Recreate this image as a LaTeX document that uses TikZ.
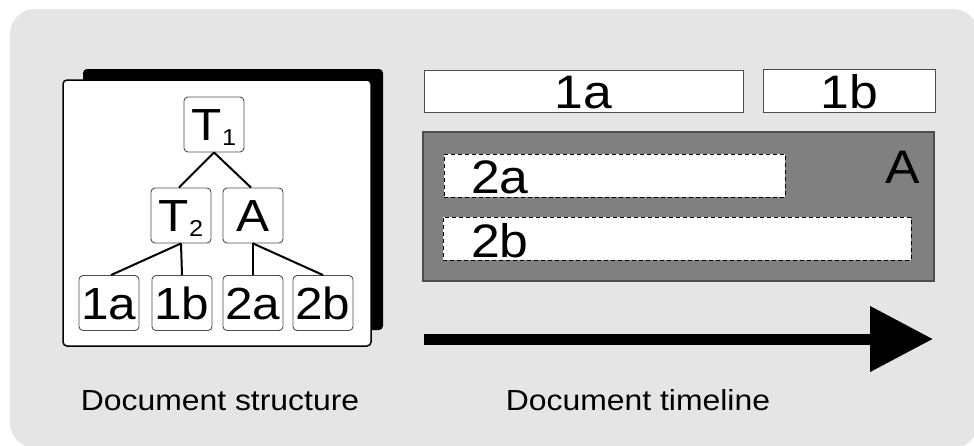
\documentclass[tikz,border=0pt]{standalone}
\usepackage{fontspec}
\setmainfont{Liberation Sans}[FakeStretch=1.1]
\usetikzlibrary{arrows.meta}
\definecolor{bggray}{HTML}{E5E5E5}
\definecolor{boxgray}{HTML}{808080}
\definecolor{edgegray}{HTML}{4D4D4D}
\tikzset{
  treebox/.style={draw=edgegray, line width=0.9pt, fill=white, rounded corners=4pt,
    minimum width=60pt, minimum height=55pt, inner sep=0pt,
    text height=32pt, text depth=0pt, font=\fontsize{45}{45}\selectfont},
  treeedge/.style={line width=2pt, black},
  tlbox/.style={draw=edgegray, line width=0.9pt, fill=white, inner sep=0pt},
  dashbox/.style={draw=black, line width=0.8pt, fill=white, inner sep=0pt, dash pattern=on 4pt off 3pt},
  tllabel/.style={inner sep=0pt, font=\fontsize{47}{47}\selectfont},
  caption/.style={inner sep=0pt, font=\fontsize{29}{29}\selectfont}
}
\newcommand{\subs}[1]{\raisebox{-5pt}{\fontsize{23}{23}\selectfont #1}}
\begin{document}
\begin{tikzpicture}[x=1pt,y=-1pt]
\useasboundingbox (0,0) rectangle (974,445);
\clip (0,0) rectangle (974,445);
% background
\fill[bggray, rounded corners=25pt] (10,9) rectangle (978,448);

% document page with shadow
\node[fill=black, rounded corners=4pt, minimum width=300pt, minimum height=261pt, inner sep=0pt] (shadow) at (233,199.5) {};
\node[draw=black, line width=1.5pt, fill=white, rounded corners=4pt, minimum width=308pt, minimum height=266pt, inner sep=0pt] (page) at (217,213) {};

% tree
\node[treebox] (T1) at (214,124.5) {T\subs{1}};
\node[treebox] (T2) at (181,215.5) {T\subs{2}};
\node[treebox] (A) at (253,215.5) {A};
\node[treebox] (n1a) at (109,303) {1a};
\node[treebox] (n1b) at (182,303) {1b};
\node[treebox] (n2a) at (253,303) {2a};
\node[treebox] (n2b) at (323,303) {2b};
\draw[treeedge] (T1.south) -- ([xshift=-2pt]T2.north);
\draw[treeedge] (T1.south) -- ([xshift=-2pt]A.north);
\draw[treeedge] (T2.south) -- ([xshift=2pt]n1a.north);
\draw[treeedge] (T2.south) -- (n1b.north);
\draw[treeedge] (A.south) -- (n2a.north);
\draw[treeedge] (A.south) -- (n2b.north);

\node[caption, anchor=base] (cap1) at (220,410) {Document structure};

% timeline
\node[tlbox, minimum width=319pt, minimum height=42pt] (b1a) at (583.5,91) {};
\node[tlbox, minimum width=172pt, minimum height=43pt] (b1b) at (849,90.5) {};
\node[tllabel, anchor=base] (l1a) at (583.5,108) {1a};
\node[tllabel, anchor=base] (l1b) at (849,108) {1b};

\node[draw=edgegray, line width=1.5pt, fill=boxgray, inner sep=0pt, minimum width=511pt, minimum height=149pt] (bA) at (678.5,206.5) {};
\node[tllabel, anchor=base west] (lA) at (885,183) {A};
\node[dashbox, minimum width=341pt, minimum height=43pt] (b2a) at (614.5,175.5) {};
\node[dashbox, minimum width=468pt, minimum height=43pt] (b2b) at (677,238.5) {};
\node[tllabel, anchor=base west] (l2a) at (471,193) {2a};
\node[tllabel, anchor=base west] (l2b) at (471,257) {2b};

\coordinate (as) at (424,339);
\coordinate (ae) at (933,339);
\draw[line width=11pt, -{Triangle[length=63pt,width=63pt]}] (as) -- (ae);

\node[caption, anchor=base] (cap2) at (638,410) {Document timeline};
\end{tikzpicture}
\end{document}
